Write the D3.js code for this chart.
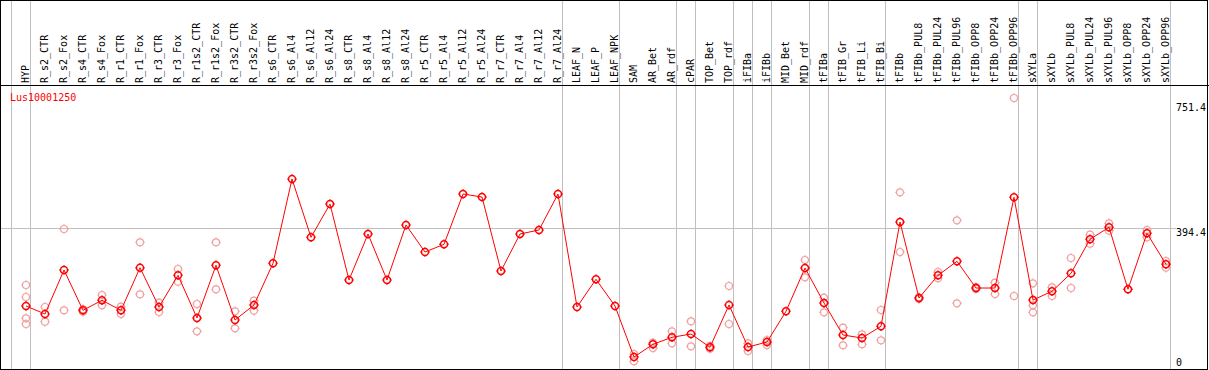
<!DOCTYPE html>
<html><head><meta charset="utf-8">
<script src="https://cdn.jsdelivr.net/npm/d3@7"></script>
<style>
body{margin:0;background:#fff}
svg{display:block}
text{font-family:"DejaVu Sans Mono",monospace;font-size:10px}
</style>
</head><body>
<svg id="c" width="1209" height="370"></svg>
<script>
const categories = ["HYP","R_s2_CTR","R_s2_Fox","R_s4_CTR","R_s4_Fox","R_r1_CTR","R_r1_Fox","R_r3_CTR","R_r3_Fox","R_r1s2_CTR","R_r1s2_Fox","R_r3s2_CTR","R_r3s2_Fox","R_s6_CTR","R_s6_Al4","R_s6_Al12","R_s6_Al24","R_s8_CTR","R_s8_Al4","R_s8_Al12","R_s8_Al24","R_r5_CTR","R_r5_Al4","R_r5_Al12","R_r5_Al24","R_r7_CTR","R_r7_Al4","R_r7_Al12","R_r7_Al24","LEAF_N","LEAF_P","LEAF_NPK","SAM","AR_Bet","AR_rdf","cPAR","TOP_Bet","TOP_rdf","iFIBa","iFIBb","MID_Bet","MID_rdf","tFIBa","tFIB_Gr","tFIB_Li","tFIB_Bi","tFIBb","tFIBb_PUL8","tFIBb_PUL24","tFIBb_PUL96","tFIBb_OPP8","tFIBb_OPP24","tFIBb_OPP96","sXYLa","sXYLb","sXYLb_PUL8","sXYLb_PUL24","sXYLb_PUL96","sXYLb_OPP8","sXYLb_OPP24","sXYLb_OPP96"];

const means = [178.9,156.9,278.0,167.1,194.6,167.1,284.3,176.2,263.4,145.9,290.9,140.4,181.7,296.4,528.5,368.0,459.6,250.5,377.1,250.5,401.9,327.5,348.7,487.2,478.9,275.2,377.1,388.1,487.2,176.2,252.4,178.9,38.5,73.5,92.8,101.8,65.2,181.7,66.0,79.8,164.3,283.5,187.2,99.1,90.8,123.0,410.1,200.9,263.4,301.9,228.4,228.4,478.1,195.4,219.4,268.9,362.5,395.5,224.9,379.0,293.7];

const replicates = [
 [236.7,203.7,145.1,129.4],[176.2,135.7],[390.8,167.1],[169.8,163.2],[209.2,180.8],[177.0,156.9],[354.2,211.1],[188.0,162.4],[280.7,245.8],[184.4,109.3],[354.2,224.9],[164.3,117.5],[193.5,166.0],
 [],[],[],[],[],[],[],[],[],[],[],[],[],[],[],[],[],[],[],
 [46.8,26.7],[77.9,63.3],[109.3,76.2],[136.8,68.0],[69.0,61.0],[234.0,129.4],[76.2,55.0],[85.3,71.6],[],[305.5,257.9],[201.7,161.6],[119.2,70.7],[101.0,73.5],[167.9,84.5],
 [491.9,327.5],[203.0,198.0],[272.5,255.1],[414.8,186.3],[231.0,226.0],[243.0,211.9],[751.4,206.4],
 [241.4,180.8,161.6],[230.4,206.4],[311.0,228.4],[375.2,350.4],[406.5,386.2],[],[388.1,368.0],[302.8,284.3]
];

const groupStarts = ["HYP","R_s2_CTR","LEAF_N","SAM","cPAR","TOP_Bet","iFIBa","iFIBb","MID_Bet","tFIBa","tFIB_Gr","tFIBb","sXYLa","sXYLb"];
const geneName = "Lus10001250";
const yLabels = [751.4, 394.4, 0];
const refLine = 394.4;

const svg = d3.select("#c");
const W = 1209, H = 370;
const x = d3.scaleBand().domain(categories).range([11.5, 11.5 + 19 * categories.length]).padding(0);
const px = c => x(c) + 14.5;
const y = d3.scaleLinear().domain([0, 751.4]).range([371, 98]);
const headerY = 85.5;

// reference grid line
svg.append("line").attr("x1", 1).attr("x2", 1176).attr("y1", Math.round(y(refLine)) + 0.5).attr("y2", Math.round(y(refLine)) + 0.5)
  .attr("stroke", "#c0c0c0").attr("stroke-width", 1);

// group separators
const seps = groupStarts.map(c => x(c)).concat([x.range()[1]]);
svg.selectAll("line.sep").data(seps).enter().append("line").attr("class", "sep")
  .attr("x1", d => d).attr("x2", d => d).attr("y1", 0).attr("y2", H)
  .attr("stroke", "#c0c0c0").attr("stroke-width", 1);

// header line
svg.append("line").attr("x1", 0).attr("x2", W).attr("y1", headerY).attr("y2", headerY).attr("stroke", "#000");

// column labels
svg.selectAll("text.col").data(categories).enter().append("text").attr("class", "col")
  .attr("transform", d => `translate(${px(d) + 3},83) rotate(-90)`)
  .attr("fill", "#000").text(d => d);

// gene name
svg.append("text").attr("x", 10).attr("y", 101).attr("fill", "#ff0000").text(geneName);

// y labels
svg.selectAll("text.yl").data(yLabels).enter().append("text").attr("class", "yl")
  .attr("x", 1176).attr("y", d => Math.max(111, Math.min(366, y(d) + 8)))
  .attr("fill", "#000").text(d => d === 0 ? "0" : d3.format(".1f")(d));

// marker path with tiny nubs
function marker(cx, cy, r) {
  const p = d3.path();
  p.moveTo(cx + r, cy); p.arc(cx, cy, r, 0, Math.PI * 2);
  p.moveTo(cx, cy - r); p.lineTo(cx, cy - r - 1.2);
  p.moveTo(cx, cy + r); p.lineTo(cx, cy + r + 1.2);
  p.moveTo(cx - r, cy); p.lineTo(cx - r - 1.2, cy);
  p.moveTo(cx + r, cy); p.lineTo(cx + r + 1.2, cy);
  return p.toString();
}

// replicates
const reps = [];
replicates.forEach((arr, i) => arr.forEach(v => reps.push({c: categories[i], v})));
svg.selectAll("path.rep").data(reps).enter().append("path").attr("class", "rep")
  .attr("d", d => marker(px(d.c), y(d.v), 3.5))
  .attr("fill", "none").attr("stroke", "#f0a0a0").attr("stroke-width", 1.2);

// mean line
const pts = categories.map((c, i) => ({c, v: means[i]}));
svg.append("path").datum(pts)
  .attr("d", d3.line().x(d => px(d.c)).y(d => y(d.v)))
  .attr("fill", "none").attr("stroke", "#ff0000").attr("stroke-width", 1);

// mean markers
svg.selectAll("path.mean").data(pts).enter().append("path").attr("class", "mean")
  .attr("d", d => marker(px(d.c), y(d.v), 3.5))
  .attr("fill", "none").attr("stroke", "#ff0000").attr("stroke-width", 1.5);

// outer border
svg.append("rect").attr("x", 0.5).attr("y", 0.5).attr("width", W - 2).attr("height", H - 1)
  .attr("fill", "none").attr("stroke", "#000");
</script>
</body></html>
